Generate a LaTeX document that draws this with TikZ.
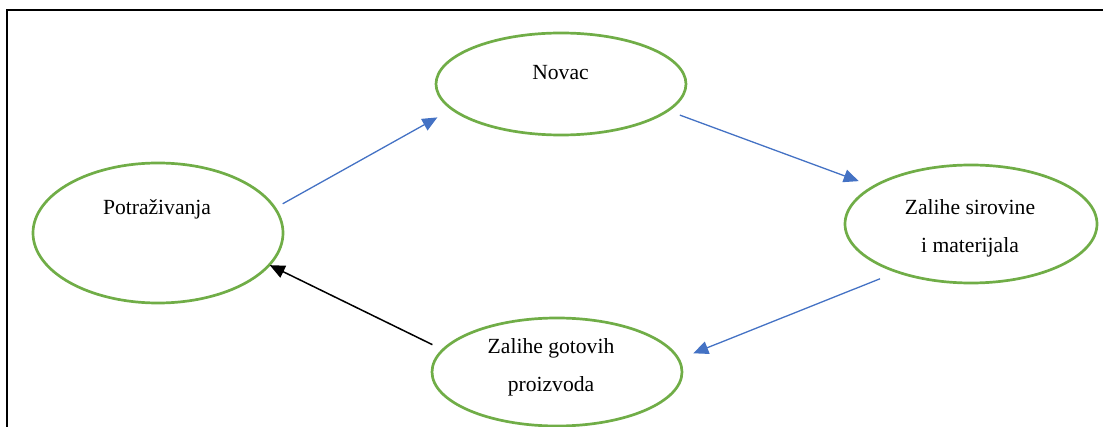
\documentclass[tikz,border=0pt]{standalone}
\usepackage{fontspec}
\setmainfont{Liberation Serif}
\usetikzlibrary{shapes.geometric,arrows.meta}
\definecolor{stagegreen}{HTML}{70AD47}
\definecolor{flowblue}{HTML}{4472C4}

\begin{document}
\begin{tikzpicture}[x=0.5pt,y=-0.5pt]
        \tikzstyle{stage}=[draw=stagegreen,ellipse,line width=1.35pt,inner sep=0pt,outer sep=0pt]
        \tikzstyle{stage text}=[font=\fontsize{10.8}{19}\selectfont,align=center,inner sep=0pt]
        \tikzstyle{flow}=[-{Triangle[length=7.5pt,width=6.5pt]},draw=flowblue,line width=0.65pt]
        \tikzstyle{back flow}=[flow,draw=black,line width=0.75pt]
        \useasboundingbox (0,0) rectangle (1103,427);
        \draw[line width=0.85pt] (1103,10) -- (7,10) -- (7,427);
        \node[stage,minimum width=125pt,minimum height=51pt] (novac) at (561,84) {};
        \node[stage,minimum width=125pt,minimum height=70pt] (potrazivanja) at (158,233) {};
        \node[stage,minimum width=126pt,minimum height=59pt] (sirovine) at (971,224) {};
        \node[stage,minimum width=125pt,minimum height=54pt] (gotovi) at (557,372) {};
        \node[stage text,anchor=base] (novac text) at (560.5,80) {Novac};
        \node[stage text,anchor=base] (potrazivanja text) at (157,215) {Potraživanja};
        \node[stage text] (sirovine text) at (970,228.6) {Zalihe sirovine\\i materijala};
        \node[stage text] (gotovi text) at (551,367) {Zalihe gotovih\\proizvoda};
        \draw[flow,shorten <=4.5pt,shorten >=8.5pt] (potrazivanja.12) -- (novac.193.4);
        \draw[flow,shorten <=6.5pt,shorten >=7.9pt] (novac.346) -- (sirovine.159.9);
        \draw[flow,shorten <=9.3pt,shorten >=8pt] (sirovine.213.5) -- (gotovi.6.2);
        \draw[back flow,shorten <=5.9pt,shorten >=0.3pt] (gotovi.169.2) -- (potrazivanja.344);
    \end{tikzpicture}
\end{document}
